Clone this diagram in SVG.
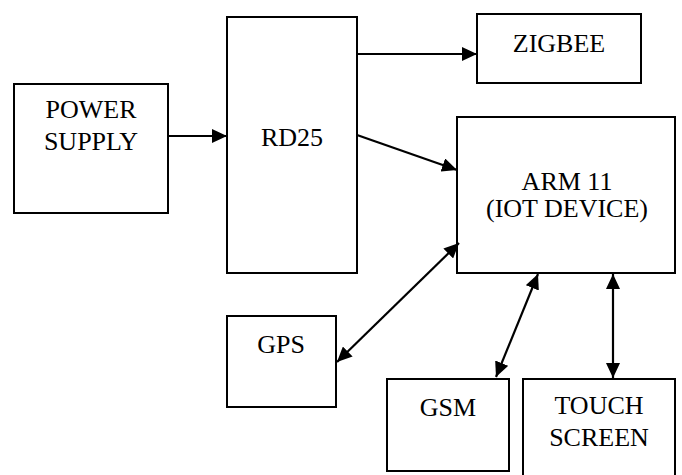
<svg xmlns="http://www.w3.org/2000/svg" width="682" height="475" viewBox="0 0 682 475">
  <style>
    .box { fill: #ffffff; stroke: #000000; stroke-width: 2; }
    .lbl { font-family: "Liberation Serif", "Times New Roman", serif; font-size: 26px; fill: #000000; text-anchor: middle; }
    .wire { fill: none; stroke: #000000; stroke-width: 2.2; }
  </style>
  <defs>
    <marker id="head" markerUnits="userSpaceOnUse" markerWidth="16" markerHeight="14" refX="15" refY="7" orient="auto-start-reverse">
      <path d="M0,0 L15,7 L0,14 Z" fill="#000000"/>
    </marker>
  </defs>
  <rect width="682" height="475" fill="#ffffff"/>

  <g id="power-supply">
    <rect class="box" x="14" y="84" width="154" height="129"/>
    <text class="lbl" x="91" y="118">POWER</text>
    <text class="lbl" x="91" y="150">SUPPLY</text>
  </g>

  <g id="rd25">
    <rect class="box" x="227" y="17" width="130" height="256"/>
    <text class="lbl" x="292" y="146">RD25</text>
  </g>

  <g id="zigbee">
    <rect class="box" x="477" y="14" width="164" height="69"/>
    <text class="lbl" x="559" y="52">ZIGBEE</text>
  </g>

  <g id="arm11">
    <rect class="box" x="457" y="117" width="218" height="156"/>
    <text class="lbl" x="567" y="190">ARM 11</text>
    <text class="lbl" x="567" y="217">(IOT DEVICE)</text>
  </g>

  <g id="gps">
    <rect class="box" x="227" y="316" width="109" height="91"/>
    <text class="lbl" x="281" y="353">GPS</text>
  </g>

  <g id="gsm">
    <rect class="box" x="387" y="379" width="122" height="92"/>
    <text class="lbl" x="448" y="416">GSM</text>
  </g>

  <g id="touch-screen">
    <rect class="box" x="523" y="379" width="152" height="110"/>
    <text class="lbl" x="599" y="414">TOUCH</text>
    <text class="lbl" x="599" y="446">SCREEN</text>
  </g>

  <g id="connectors">
    <line class="wire" x1="168" y1="136" x2="227" y2="136" marker-end="url(#head)"/>
    <line class="wire" x1="357" y1="54" x2="477" y2="54" marker-end="url(#head)"/>
    <line class="wire" x1="357" y1="135" x2="457" y2="170" marker-end="url(#head)"/>
    <line class="wire" x1="337" y1="362" x2="459" y2="243" marker-start="url(#head)" marker-end="url(#head)"/>
    <line class="wire" x1="496" y1="377" x2="538" y2="274" marker-start="url(#head)" marker-end="url(#head)"/>
    <line class="wire" x1="613" y1="378" x2="613" y2="274" marker-start="url(#head)" marker-end="url(#head)"/>
  </g>
</svg>
